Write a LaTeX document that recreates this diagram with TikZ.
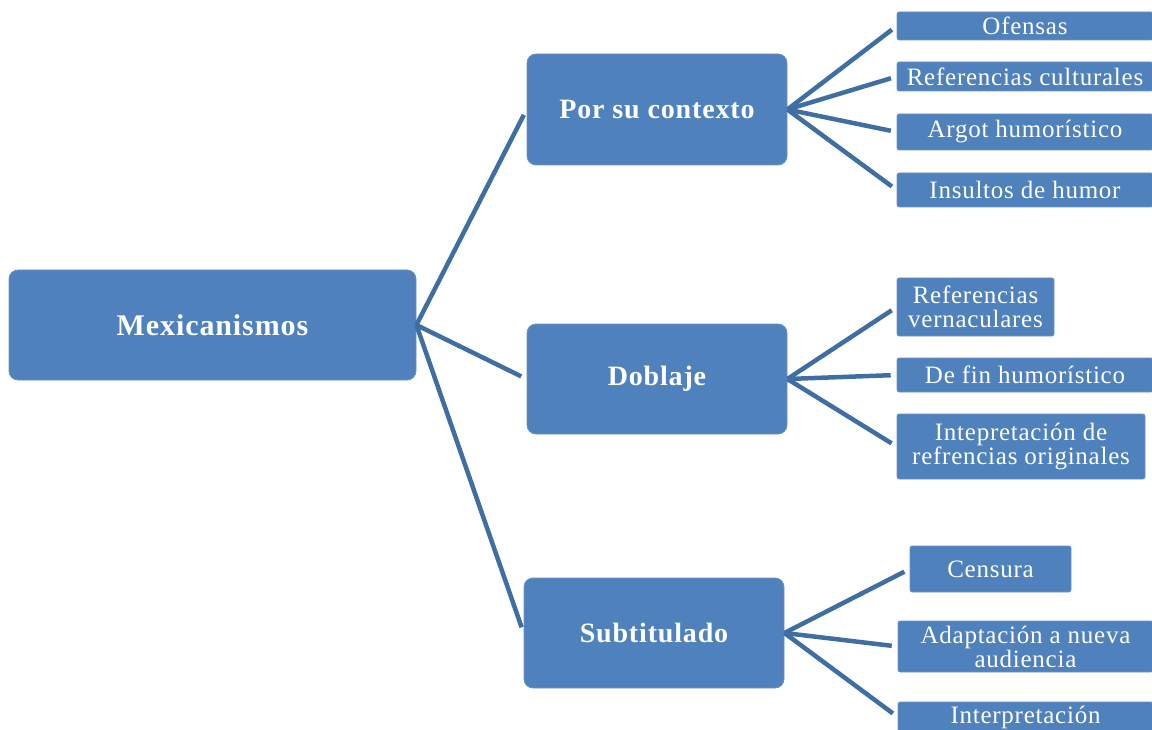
\documentclass[tikz,border=0pt]{standalone}
\usepackage{fontspec}
\setmainfont{Liberation Serif}[LetterSpace=3]
\definecolor{boxblue}{HTML}{4F81BD}
\definecolor{lineblue}{HTML}{3F6EA3}
\begin{document}
\begin{tikzpicture}[x=1pt,y=-1pt,
  bigbox/.style={fill=boxblue, draw=boxblue!85!white, line width=0.8pt, rounded corners=9pt, inner sep=0pt,
     text=white, font=\fontsize{28}{30}\selectfont\bfseries, align=center},
  leafbox/.style={fill=boxblue, draw=boxblue!85!white, line width=0.6pt, rounded corners=2pt, inner sep=0pt,
     text=white, font=\fontsize{25}{24}\selectfont, align=center},
  conn/.style={draw=lineblue, line width=4.5pt, shorten >=6pt}
]
\useasboundingbox (0,0) rectangle (1152,730);
\clip (0,0) rectangle (1152,730);
% main boxes
\node[bigbox, minimum width=407pt, minimum height=110pt, font=\fontsize{30}{32}\selectfont\bfseries] (mex) at (212.5,325) {Mexicanismos};
\node[bigbox, minimum width=260pt, minimum height=111pt] (por) at (657,109.5) {Por su contexto};
\node[bigbox, minimum width=260pt, minimum height=110pt] (dob) at (657,379) {Doblaje};
\node[bigbox, minimum width=260pt, minimum height=110pt] (sub) at (654,633) {Subtitulado};
% leaves
\node[leafbox, minimum width=256pt, minimum height=28pt] (ofe) at (1025,26) {Ofensas};
\node[leafbox, minimum width=256pt, minimum height=29pt] (rcu) at (1025,76.5) {Referencias culturales};
\node[leafbox, minimum width=256pt, minimum height=36pt] (arg) at (1025,132) {Argot humorístico};
\node[leafbox, minimum width=256pt, minimum height=34pt] (ins) at (1025,190) {Insultos de humor};
\node[leafbox, minimum width=157pt, minimum height=58pt] (rve) at (975.5,307) {Referencias\\vernaculares};
\node[leafbox, minimum width=256pt, minimum height=34pt] (dfh) at (1025,375) {De fin humorístico};
\node[leafbox, minimum width=248pt, minimum height=65pt] (int) at (1021,446.5) {Intepretación de\\refrencias originales};
\node[leafbox, minimum width=161pt, minimum height=46pt] (cen) at (990.5,569) {Censura};
\node[leafbox, minimum width=255pt, minimum height=51pt] (ada) at (1025.5,646.5) {Adaptación a nueva\\audiencia};
\node[leafbox, minimum width=255pt, minimum height=30pt] (itp) at (1025.5,717) {Interpretación};
% connectors
\foreach \t in {por,dob,sub} \draw[conn] (mex.east) -- (\t.west);
\foreach \t in {ofe,rcu,arg,ins} \draw[conn] (por.east) -- (\t.west);
\foreach \t in {rve,dfh,int} \draw[conn] (dob.east) -- (\t.west);
\foreach \t in {cen,ada,itp} \draw[conn] (sub.east) -- (\t.west);
\end{tikzpicture}
\end{document}
